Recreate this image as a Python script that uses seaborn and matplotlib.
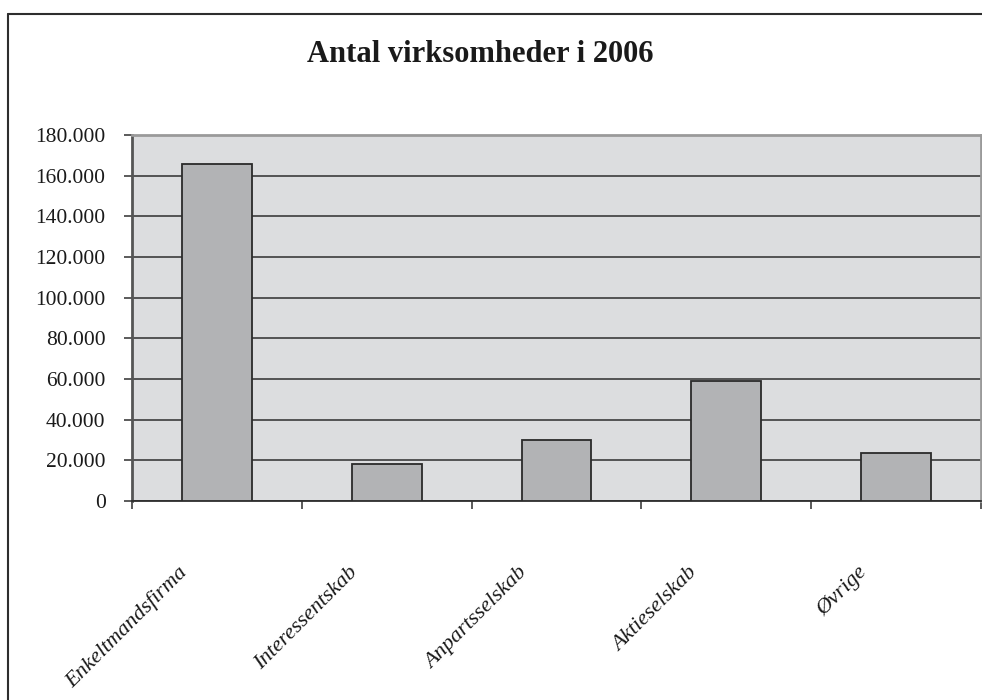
import matplotlib
matplotlib.use("Agg")
import matplotlib.pyplot as plt
import matplotlib.transforms as mtransforms
from matplotlib.ticker import FuncFormatter, FixedLocator
from matplotlib.lines import Line2D
import seaborn as sns
import pandas as pd

categories = ["Enkeltmandsfirma", "Interessentskab", "Anpartsselskab", "Aktieselskab", "Øvrige"]
values = [165500, 18200, 30000, 59000, 23800]
yticks = [0, 20000, 40000, 60000, 80000, 100000, 120000, 140000, 160000, 180000]
title = "Antal virksomheder i 2006"

sns.set_theme(style="white")
plt.rcParams["font.family"] = ["Liberation Serif", "DejaVu Serif"]

df = pd.DataFrame({"kategori": categories, "antal": values})

fig = plt.figure(figsize=(9.82, 7.0), dpi=100)
ax = fig.add_axes([132/982, 1-501/700, 849/982, (501-135)/700])
ax.set_facecolor("#DCDDDF")

sns.barplot(data=df, x="kategori", y="antal", ax=ax, color="#B2B3B5",
            saturation=1, width=0.41, edgecolor="#2a2a2a", linewidth=1.3, zorder=3)

ax.set_xlim(-0.5, len(categories) - 0.5)
ax.set_ylim(0, 180000)
ax.set_yticks(yticks)
ax.yaxis.set_major_formatter(FuncFormatter(lambda v, p: f"{int(v):,}".replace(",", ".")))
ax.yaxis.grid(True, color="#2e2e2e", linewidth=1.1)
ax.set_axisbelow(True)
ax.set_xlabel("")
ax.set_ylabel("")

for side in ["top", "right"]:
    ax.spines[side].set_color("#9a9a9a")
    ax.spines[side].set_linewidth(2)
ax.spines["left"].set_color("#555555")
ax.spines["left"].set_linewidth(2)
ax.spines["bottom"].set_color("#2e2e2e")
ax.spines["bottom"].set_linewidth(1.3)

ax.tick_params(axis="y", which="major", left=True, length=6, width=1.1, color="#2e2e2e",
               pad=13, labelsize=15.5, labelcolor="#1a1a1a")
ax.tick_params(axis="x", which="major", bottom=True, length=0, pad=0)
ax.xaxis.set_minor_locator(FixedLocator([i - 0.5 for i in range(len(categories) + 1)]))
ax.tick_params(axis="x", which="minor", bottom=True, length=6, width=1.1, color="#2e2e2e")

ax.set_xticks(range(len(categories)))
ax.set_xticklabels(categories, rotation=45, ha="right", va="center",
                   rotation_mode="anchor", fontstyle="italic", fontsize=16, color="#1a1a1a")
offset = mtransforms.ScaledTranslation(-0.32, -0.69, fig.dpi_scale_trans)
for lab in ax.get_xticklabels():
    lab.set_transform(lab.get_transform() + offset)

fig.text(480/982, 1-54/700, title, ha="center", va="center", fontsize=22,
         fontweight="bold", color="#1a1a1a")

# outer chart frame
fig.add_artist(Line2D([8/982, 8/982], [0, 1-14/700], transform=fig.transFigure,
                      color="#2e2e2e", linewidth=1.5))
fig.add_artist(Line2D([8/982, 1], [1-14/700, 1-14/700], transform=fig.transFigure,
                      color="#2e2e2e", linewidth=1.5))

fig.savefig("out.png", dpi=100, facecolor="white")
